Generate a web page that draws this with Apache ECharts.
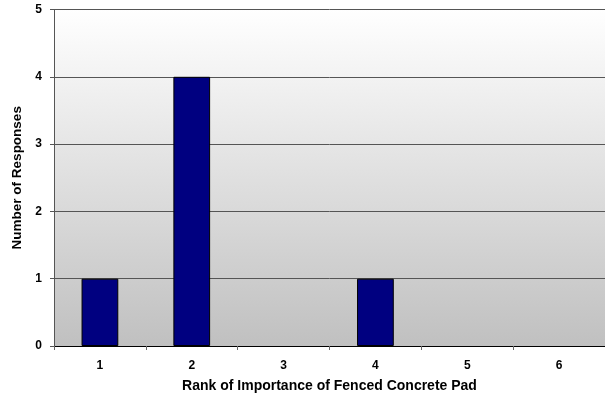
<!DOCTYPE html>
<html><head><meta charset="utf-8">
<script src="https://cdn.jsdelivr.net/npm/echarts@6/dist/echarts.min.js"></script>
<style>html,body{margin:0;padding:0;background:#fff}#c{width:605px;height:399px}</style>
</head><body><div id="c"></div>
<script>
const categories = ['1','2','3','4','5','6'];
const responses = [1, 4, 0, 1, 0, 0];
const yTicks = [0, 1, 2, 3, 4, 5];

const font = 'Liberation Sans, Arial, sans-serif';
const chart = echarts.init(document.getElementById('c'), null, {renderer:'canvas'});
chart.setOption({
  animation: false,
  grid: {
    left: 54, right: 0, top: 9.5, bottom: 53,
    show: true, borderWidth: 0,
    backgroundColor: new echarts.graphic.LinearGradient(0,0,0,1,[{offset:0,color:'#ffffff'},{offset:1,color:'#c0c0c0'}])
  },
  xAxis: {
    type: 'category', data: categories, boundaryGap: true,
    name: 'Rank of Importance of Fenced Concrete Pad', nameLocation: 'middle', nameGap: 33,
    nameTextStyle: {fontFamily: font, fontWeight: 'bold', fontSize: 14, color: '#000'},
    axisLine: {lineStyle: {color: '#000', width: 1}},
    axisTick: {show: true, alignWithLabel: false, length: 4, lineStyle: {color: '#666'}},
    axisLabel: {fontFamily: font, fontWeight: 'bold', fontSize: 12, color: '#000', margin: 14}
  },
  yAxis: {
    type: 'value', min: 0, max: yTicks[yTicks.length-1], interval: 1,
    name: 'Number of Responses', nameLocation: 'middle', nameGap: 28,
    nameTextStyle: {fontFamily: font, fontWeight: 'bold', fontSize: 13.5, color: '#000'},
    axisLine: {show: true, lineStyle: {color: '#555', width: 1}},
    axisTick: {show: true, length: 4, lineStyle: {color: '#555'}},
    axisLabel: {fontFamily: font, fontWeight: 'bold', fontSize: 12, color: '#000', margin: 12},
    splitLine: {show: true, lineStyle: {color: '#555', width: 1}}
  },
  series: [{
    type: 'bar', barWidth: '40%',
    data: responses.map(v => v === 0 ? {value: v, itemStyle: {borderWidth: 0}} : v),
    itemStyle: {color: '#000080', borderColor: '#000', borderWidth: 1}
  }]
});
</script></body></html>
